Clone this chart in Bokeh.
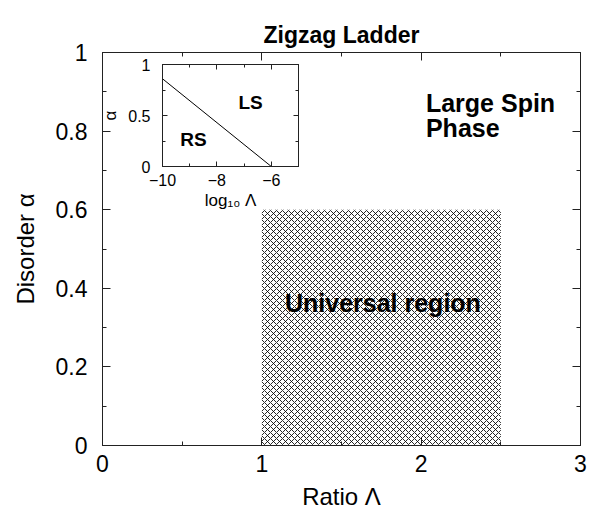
from bokeh.plotting import figure
from bokeh.layouts import column
from bokeh.models import Range1d, LinearAxis, FixedTicker, ColumnDataSource, CustomLabelingPolicy
from bokeh.core.properties import value
from bokeh.embed import file_html
from bokeh.resources import INLINE

FONT = "Liberation Sans"

# ---- data ----
x_ticks = [0, 1, 2, 3]
x_minor = [0.5, 1.5, 2.5]
y_ticks = [0, 0.2, 0.4, 0.6, 0.8, 1.0]
y_minor = [0.1, 0.3, 0.5, 0.7, 0.9]
universal_left = [1.0]
universal_right = [2.5]
universal_bottom = [0.0]
universal_top = [0.6]
phase_labels = ["Large Spin", "Phase"]
phase_x = [2.03, 2.03]
phase_y = [0.871, 0.807]
universal_label = ["Universal region"]
universal_label_x = [1.76]
universal_label_y = [0.363]

inset_x_ticks = [-10, -8, -6]
inset_x_minor = [-9, -7, -5]
inset_y_ticks = [0, 0.5, 1]
inset_y_minor = [0.25, 0.75]
inset_log_lambda = [-10, -6]
inset_alpha = [0.86, 0.0]
inset_labels = ["LS", "RS"]
inset_label_x = [-6.76, -8.86]
inset_label_y = [0.63, 0.26]


def style_axis(ax, ticks, minor, font_size, major_in, minor_in, standoff, labels=True):
    ax.ticker = FixedTicker(ticks=ticks, minor_ticks=minor)
    ax.major_tick_in = major_in
    ax.major_tick_out = 0
    ax.minor_tick_in = minor_in
    ax.minor_tick_out = 0
    ax.axis_line_color = "#222222"
    ax.major_tick_line_color = "#222222"
    ax.minor_tick_line_color = "#222222"
    ax.major_label_text_font = FONT
    ax.major_label_text_color = "black"
    ax.axis_label_text_font = FONT
    ax.axis_label_text_font_style = "normal"
    ax.axis_label_text_color = "black"
    if labels:
        ax.major_label_text_font_size = font_size
        ax.major_label_standoff = standoff
    else:
        ax.major_label_text_font_size = "0px"
        ax.major_label_standoff = standoff
        ax.major_label_policy = CustomLabelingPolicy(code="return new Set()")


# ---- main figure ----
p = figure(width=594, height=512, output_backend="svg", toolbar_location=None,
           x_range=Range1d(0, 3), y_range=Range1d(0, 1),
           min_border_left=102, min_border_right=14, min_border_top=52, min_border_bottom=66,
           title="Zigzag Ladder")
p.frame_align = False
p.title.align = "center"
p.title.text_font = FONT
p.title.text_font_size = "23px"
p.title.text_font_style = "bold"
p.title.text_color = "black"
p.xgrid.visible = False
p.ygrid.visible = False
p.outline_line_color = "#222222"
p.outline_line_width = 1

style_axis(p.xaxis[0], x_ticks, x_minor, "23px", 8, 4, 9)
style_axis(p.yaxis[0], y_ticks, y_minor, "23px", 8, 4, 15)
p.xaxis[0].major_label_overrides = {t: f"{t:g}" for t in x_ticks}
p.yaxis[0].major_label_overrides = {t: f"{t:g}" for t in y_ticks}
p.xaxis[0].axis_label = "Ratio Λ"
p.yaxis[0].axis_label = "Disorder α"
p.xaxis[0].axis_label_text_font_size = "24px"
p.yaxis[0].axis_label_text_font_size = "24px"
p.xaxis[0].axis_label_standoff = 8
p.yaxis[0].axis_label_standoff = 14

top_ax = LinearAxis()
right_ax = LinearAxis()
style_axis(top_ax, x_ticks, x_minor, "0px", 8, 4, 12, labels=False)
style_axis(right_ax, y_ticks, y_minor, "0px", 8, 4, 0, labels=False)
p.add_layout(top_ax, "above")
p.add_layout(right_ax, "right")

p.quad(left=universal_left, right=universal_right, bottom=universal_bottom, top=universal_top,
       fill_color="white", line_alpha=0, hatch_pattern="x", hatch_color="black",
       hatch_scale=6, hatch_weight=1, hatch_alpha=0.85)

src = ColumnDataSource(dict(x=phase_x, y=phase_y, t=phase_labels))
p.text(x="x", y="y", text="t", source=src, text_font=value(FONT), text_font_style="bold",
       text_font_size="25px", text_align="left", text_baseline="middle", text_color="black")
src2 = ColumnDataSource(dict(x=universal_label_x, y=universal_label_y, t=universal_label))
p.text(x="x", y="y", text="t", source=src2, text_font=value(FONT), text_font_style="bold",
       text_font_size="25px", text_align="center", text_baseline="middle", text_color="black")

# ---- inset ----
inset = figure(width=208, height=165, output_backend="svg", toolbar_location=None,
               x_range=Range1d(-10, -5), y_range=Range1d(0, 1),
               min_border_left=66, min_border_right=6, min_border_top=8, min_border_bottom=55,
               styles={"position": "absolute", "left": "96px", "top": "56px"})
inset.frame_align = False
inset.border_fill_alpha = 0
inset.background_fill_color = "white"
inset.xgrid.visible = False
inset.ygrid.visible = False
inset.outline_line_color = "#222222"

style_axis(inset.xaxis[0], inset_x_ticks, inset_x_minor, "16px", 5, 3, 7)
style_axis(inset.yaxis[0], inset_y_ticks, inset_y_minor, "16px", 5, 3, 12)
inset.xaxis[0].major_label_overrides = {t: f"{t:g}".replace("-", "\u2212") for t in inset_x_ticks}
inset.yaxis[0].major_label_overrides = {t: f"{t:g}" for t in inset_y_ticks}
inset.xaxis[0].axis_label = "log₁₀ Λ"
inset.yaxis[0].axis_label = "α"
inset.xaxis[0].axis_label_text_font_size = "17px"
inset.yaxis[0].axis_label_text_font_size = "17px"
inset.xaxis[0].axis_label_standoff = 2
inset.yaxis[0].axis_label_standoff = 5

itop = LinearAxis()
iright = LinearAxis()
style_axis(itop, inset_x_ticks, inset_x_minor, "0px", 5, 3, 0, labels=False)
style_axis(iright, inset_y_ticks, inset_y_minor, "0px", 5, 3, 0, labels=False)
inset.add_layout(itop, "above")
inset.add_layout(iright, "right")

inset.line(inset_log_lambda, inset_alpha, line_color="black", line_width=1)
isrc = ColumnDataSource(dict(x=inset_label_x, y=inset_label_y, t=inset_labels))
inset.text(x="x", y="y", text="t", source=isrc, text_font=value(FONT), text_font_style="bold",
           text_font_size="19px", text_align="center", text_baseline="middle", text_color="black")

layout = column(p, inset, styles={"position": "relative"})
open("out.html", "w").write(file_html(layout, INLINE))
